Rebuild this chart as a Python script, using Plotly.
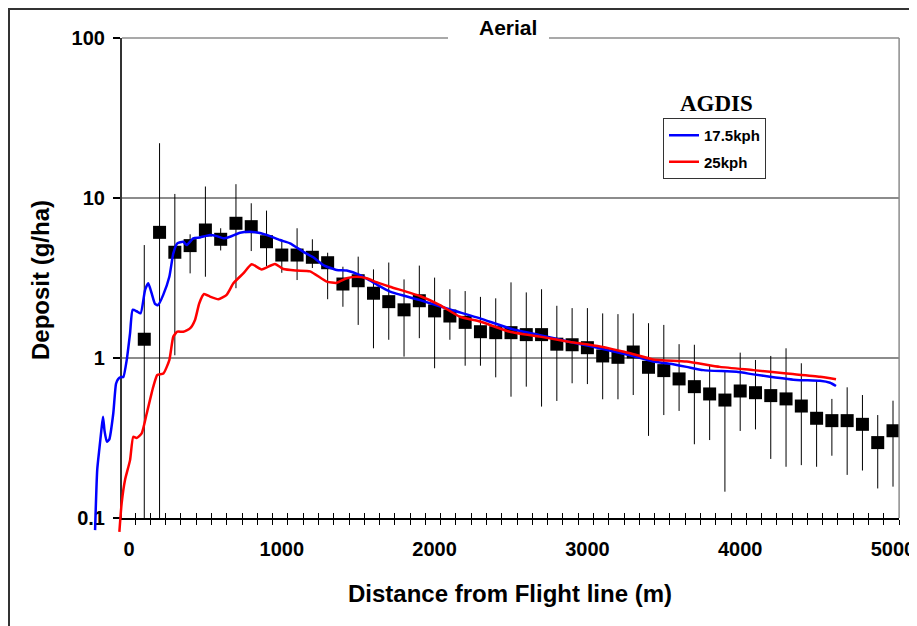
import plotly.graph_objects as go

# ---------------- data ----------------
dist_m = [100, 200, 300, 400, 500, 600, 700, 800, 900, 1000,
          1100, 1200, 1300, 1400, 1500, 1600, 1700, 1800, 1900, 2000,
          2100, 2200, 2300, 2400, 2500, 2600, 2700, 2800, 2900, 3000,
          3100, 3200, 3300, 3400, 3500, 3600, 3700, 3800, 3900, 4000,
          4100, 4200, 4300, 4400, 4500, 4600, 4700, 4800, 4900, 5000]
deposit = [1.31, 6.1, 4.58, 5.04, 6.31, 5.52, 6.95, 6.62, 5.33, 4.4,
           4.4, 4.26, 3.94, 2.9, 3.04, 2.54, 2.25, 2.0, 2.28, 1.97,
           1.83, 1.67, 1.46, 1.44, 1.44, 1.40, 1.40, 1.22, 1.21, 1.16,
           1.03, 1.01, 1.09, 0.875, 0.834, 0.74, 0.662, 0.596, 0.546, 0.622,
           0.607, 0.582, 0.555, 0.501, 0.42, 0.406, 0.406, 0.385, 0.296, 0.351]
dep_upper = [5.08, 22.0, 10.6, 5.93, 11.8, 6.47, 12.2, 9.27, 8.34, 5.33,
             6.47, 5.52, 4.55, 3.72, 4.3, 3.58, 3.95, 3.1, 3.78, 3.18,
             2.69, 2.62, 2.41, 2.36, 2.97, 2.57, 2.69, 2.12, 2.05, 2.05,
             1.90, 1.88, 1.90, 1.65, 1.61, 1.22, 1.21, 0.904, 0.821, 1.08,
             0.972, 1.03, 1.15, 0.927, 0.729, 0.555, 0.656, 0.587, 0.44, 0.541]
dep_lower = [0.05, 0.05, 1.04, 3.38, 3.22, 4.7, 2.73, 4.66, 3.76, 3.41,
             3.07, 3.65, 2.33, 2.09, 1.61, 1.15, 1.30, 1.02, 1.33, 0.863,
             1.30, 0.895, 0.895, 0.757, 0.573, 0.662, 0.497, 0.539, 0.695, 0.687,
             0.552, 0.552, 0.587, 0.326, 0.44, 0.467, 0.289, 0.307, 0.146, 0.35,
             0.358, 0.234, 0.209, 0.214, 0.209, 0.245, 0.186, 0.198, 0.153, 0.157]

agdis17_x = [-222, -208, -194, -180, -170, -160, -145, -129, -103, -85,
             -70, -50, -37, -15, 7, 24, 50, 76, 105, 126,
             148, 170, 190, 224, 264, 290, 316, 355, 377, 421,
             465, 530, 574, 617, 661, 726, 792, 857, 923, 988,
             1054, 1141, 1206, 1272, 1359, 1425, 1512, 1577, 1643, 1708,
             1904, 2101, 2297, 2493, 2690, 2886, 3082, 3279, 3431, 3540,
             3649, 3758, 3976, 4086, 4195, 4369, 4522, 4588, 4627]
agdis17_y = [0.084, 0.20, 0.27, 0.36, 0.43, 0.35, 0.30, 0.31, 0.45, 0.69,
             0.74, 0.76, 0.76, 0.97, 1.43, 2.0, 1.96, 1.9, 2.66, 2.93,
             2.54, 2.18, 2.14, 2.48, 3.22, 4.51, 5.21, 5.33, 5.08, 5.6,
             5.67, 5.87, 5.78, 5.6, 5.73, 6.07, 6.16, 6.05, 5.78, 5.46,
             5.21, 4.61, 4.26, 3.81, 3.55, 3.52, 3.3, 3.05, 2.8, 2.6,
             2.3, 2.01, 1.77, 1.53, 1.39, 1.26, 1.15, 1.04, 0.95, 0.92,
             0.88, 0.84, 0.82, 0.79, 0.764, 0.729, 0.72, 0.70, 0.668]

agdis25_x = [-63, -48, -26, 7, 28, 50, 83, 116, 159, 185,
             225, 264, 290, 316, 355, 399, 432, 460, 491, 530,
             585, 639, 683, 748, 803, 868, 955, 1010, 1097, 1185,
             1294, 1359, 1425, 1490, 1555, 1620, 1708, 1904, 2035, 2166,
             2297, 2493, 2690, 2886, 3082, 3279, 3431, 3649, 3867, 4086,
             4304, 4522, 4627]
agdis25_y = [0.082, 0.124, 0.173, 0.23, 0.322, 0.316, 0.338, 0.45, 0.662, 0.783,
             0.80, 0.97, 1.36, 1.46, 1.46, 1.53, 1.73, 2.2, 2.51, 2.42,
             2.33, 2.48, 2.93, 3.38, 3.85, 3.58, 3.87, 3.6, 3.52, 3.48,
             3.0, 2.95, 3.15, 3.22, 3.15, 2.98, 2.79, 2.44, 2.14, 1.81,
             1.69, 1.46, 1.36, 1.26, 1.18, 1.07, 0.98, 0.95, 0.88, 0.84,
             0.80, 0.764, 0.736]

x_tick_labels = [0, 1000, 2000, 3000, 4000, 5000]
x_tick_marks = list(range(40, 5041, 100))
y_tick_vals = [0.1, 1, 10, 100]
y_tick_text = ["0.1", "1", "10", "100"]

# ---------------- geometry helpers (layout only) ----------------
# The page body has an 8px margin, so the figure is sized to fit the window
OFF = 8
W, H = 917 - OFF, 626 - OFF
PX_PER_M = 0.1528
X0_PX = 129.0          # page pixel of distance 0
PX_PER_DECADE = 160.0
TOP_PX = 38.0          # page pixel row of 100


def xpx(v):
    return X0_PX + v * PX_PER_M


def ypx(logv):
    return TOP_PX + (2 - logv) * PX_PER_DECADE


def px_x(p):
    return (p - OFF) / W


def px_y(p):
    return 1 - (p - OFF) / H


XR_MAIN = [-46, 5040]
XR_WIDE = [-255, 5040]
YR_MAIN = [-1, 2]
YR_WIDE = [-1.1, 2]

SANS = "Liberation Sans, Arial, sans-serif"
SERIF = "Liberation Serif, Times New Roman, serif"
GRID = "#8c8c8c"

fig = go.Figure()

fig.add_trace(go.Scatter(
    x=dist_m, y=deposit, mode="markers",
    marker=dict(symbol="square", size=13, color="black"),
    error_y=dict(type="data", symmetric=False,
                 array=[u - d for u, d in zip(dep_upper, deposit)],
                 arrayminus=[d - l for d, l in zip(deposit, dep_lower)],
                 width=0, thickness=1, color="black"),
    showlegend=False, hoverinfo="x+y", xaxis="x", yaxis="y"))

fig.add_trace(go.Scatter(x=[], y=[], xaxis="x3", yaxis="y", showlegend=False,
                         hoverinfo="skip"))

fig.add_trace(go.Scatter(
    x=agdis17_x, y=agdis17_y, mode="lines", name="17.5kph",
    line=dict(color="#0000FF", width=2.5, shape="spline", smoothing=0.5),
    legendgroup="a", xaxis="x2", yaxis="y2"))
fig.add_trace(go.Scatter(
    x=agdis25_x, y=agdis25_y, mode="lines", name="25kph",
    line=dict(color="#FF0000", width=2.5, shape="spline", smoothing=0.5),
    legendgroup="b", xaxis="x2", yaxis="y2"))

tickfont = dict(family=SANS, size=20, color="black", weight="bold")

fig.update_layout(
    width=W, height=H,
    margin=dict(l=0, r=0, t=0, b=0, autoexpand=False),
    paper_bgcolor="white", plot_bgcolor="rgba(0,0,0,0)",
    xaxis=dict(domain=[px_x(xpx(XR_MAIN[0])), px_x(xpx(XR_MAIN[1]))],
               range=XR_MAIN, anchor="y",
               tickvals=x_tick_labels, ticktext=[str(v) for v in x_tick_labels],
               ticks="", showline=True, linecolor="black", linewidth=1.5,
               showgrid=False, zeroline=False, tickfont=tickfont,
               ticklabelstandoff=12,
               minor=dict(tickvals=x_tick_marks, ticks="outside", ticklen=5,
                          tickcolor="black", tickwidth=1, showgrid=False)),
    xaxis3=dict(overlaying="x", anchor="y", range=XR_MAIN,
                tickvals=x_tick_marks, ticks="inside", ticklen=5,
                tickcolor="black", tickwidth=1, showticklabels=False,
                showline=False, showgrid=False, zeroline=False),
    yaxis=dict(domain=[px_y(ypx(YR_MAIN[0])), px_y(ypx(YR_MAIN[1]))],
               type="log", range=YR_MAIN, anchor="x",
               tickvals=y_tick_vals, ticktext=y_tick_text,
               ticks="outside", ticklen=7, tickcolor="black", tickwidth=1.5,
               showline=True, linecolor="#333333", linewidth=2,
               showgrid=True, gridcolor=GRID, gridwidth=1.5,
               tickfont=tickfont, ticklabelstandoff=4),
    xaxis2=dict(domain=[px_x(xpx(XR_WIDE[0])), px_x(xpx(XR_WIDE[1]))],
                range=XR_WIDE, anchor="y2", visible=False),
    yaxis2=dict(domain=[px_y(ypx(YR_WIDE[0])), px_y(ypx(YR_WIDE[1]))],
                type="log", range=YR_WIDE, anchor="x2", visible=False),
    legend=dict(x=px_x(663), y=px_y(118), xanchor="left", yanchor="top",
                bordercolor="#333333", borderwidth=1, bgcolor="white",
                font=dict(family=SANS, size=15, color="black", weight="bold"),
                tracegroupgap=4),
    showlegend=True,
)

# chart frame, plot-area top/right edges, gap for title
fig.add_shape(type="rect", xref="paper", yref="paper",
              x0=px_x(9), x1=px_x(912), y0=-0.05, y1=px_y(9),
              line=dict(color="#333333", width=2))
fig.add_shape(type="line", xref="paper", yref="paper",
              x0=px_x(xpx(XR_MAIN[0])), x1=px_x(xpx(XR_MAIN[1])),
              y0=px_y(ypx(YR_MAIN[1])), y1=px_y(ypx(YR_MAIN[1])),
              line=dict(color=GRID, width=1.5), layer="below")
fig.add_shape(type="line", xref="paper", yref="paper",
              x0=px_x(xpx(XR_MAIN[1])), x1=px_x(xpx(XR_MAIN[1])),
              y0=px_y(ypx(YR_MAIN[0])), y1=px_y(ypx(YR_MAIN[1])),
              line=dict(color=GRID, width=1.5))
fig.add_shape(type="rect", xref="paper", yref="paper",
              x0=px_x(448), x1=px_x(549), y0=px_y(44), y1=px_y(32),
              fillcolor="white", line=dict(width=0), layer="above")

ann = dict(xref="paper", yref="paper", showarrow=False,
           xanchor="center", yanchor="middle")
fig.add_annotation(text="<b>Aerial</b>", x=px_x(508), y=px_y(28),
                   font=dict(family=SANS, size=21, color="black"), **ann)
fig.add_annotation(text="<b>AGDIS</b>", x=px_x(716), y=px_y(103),
                   font=dict(family=SERIF, size=23, color="black"), **ann)
fig.add_annotation(text="<b>Deposit (g/ha)</b>", x=px_x(40), y=px_y(280),
                   textangle=-90,
                   font=dict(family=SANS, size=24, color="black"), **ann)
fig.add_annotation(text="<b>Distance from Flight line (m)</b>",
                   x=px_x(510), y=px_y(593),
                   font=dict(family=SANS, size=24, color="black"), **ann)

fig.write_html("out.html")
